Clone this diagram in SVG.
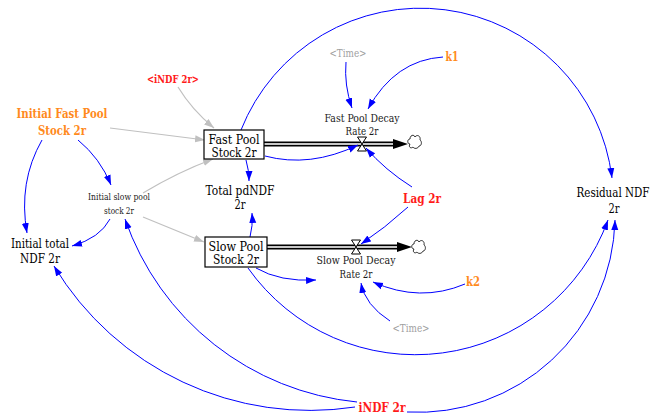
<svg xmlns="http://www.w3.org/2000/svg" width="654" height="414" viewBox="0 0 654 414">
<style>
text{font-family:'DejaVu Serif',serif;text-anchor:middle}
.n{font-size:12px;fill:#000}
.bx{font-size:12.2px;fill:#000}
.s{font-size:10.5px;fill:#1a1a1a}
.xs{font-size:8.7px;fill:#1a1a1a}
.tm{font-size:10.5px;fill:#a0a0a0}
.or{font-size:12.3px;font-weight:bold;fill:#ff8a1c}
.rd{font-size:12.3px;font-weight:bold;fill:#ff1a1a}
.b{fill:none;stroke:#0000ff;stroke-width:1;marker-end:url(#ab)}
.g{fill:none;stroke:#c0c0c0;stroke-width:1.2;marker-end:url(#ag)}
.box{fill:#fff;stroke:#000;stroke-width:1.2}
.valve{fill:#fff;stroke:#000;stroke-width:1}
.cloud{fill:#fff;stroke:#000;stroke-width:0.8}
</style>
<defs>
<marker id="ab" markerUnits="userSpaceOnUse" markerWidth="11" markerHeight="8" refX="10" refY="4" orient="auto"><path d="M0,0.5 L10,4 L0,7.5 Z" fill="#0000ff"/></marker>
<marker id="ag" markerUnits="userSpaceOnUse" markerWidth="11" markerHeight="8" refX="10" refY="4" orient="auto"><path d="M0,0.5 L10,4 L0,7.5 Z" fill="#c0c0c0"/></marker>
<path id="cl" d="M-4,3 C-7,3 -7,-2 -4,-2 C-4,-6 0,-7 1,-4 C3,-7 7,-5 6,-1 C8,0 8,5 5,5 C4,8 0,8 -1,6 C-3,8 -6,6 -4,3 Z"/>
</defs>

<g id="connectors">
<g id="flow-fast">
<line x1="264" y1="144" x2="394" y2="144" stroke="#000" stroke-width="5"/>
<line x1="264" y1="144" x2="394" y2="144" stroke="#c8c8c8" stroke-width="2"/>
<polygon points="393,139 408,144 393,149" fill="#000"/>
<path class="valve" d="M357.5,137 L366.5,137 L357.5,151 L366.5,151 Z"/>
<use href="#cl" class="cloud" transform="translate(414,141)"/>
</g>
<g id="flow-slow">
<line x1="267" y1="247" x2="398" y2="247" stroke="#000" stroke-width="5"/>
<line x1="267" y1="247" x2="398" y2="247" stroke="#c8c8c8" stroke-width="2"/>
<polygon points="397,242 412,247 397,252" fill="#000"/>
<path class="valve" d="M351.5,240 L360.5,240 L351.5,254 L360.5,254 Z"/>
<use href="#cl" class="cloud" transform="translate(418,246)"/>
</g>
<path class="g" d="M178,87 Q192,110 214,128"/>
<path class="g" d="M110,128 L205,140"/>
<path class="g" d="M143,193 Q178,172 213,159"/>
<path class="g" d="M143,217 Q170,228 204,242"/>
<path class="b" d="M42,140 Q18,182 27,233"/>
<path class="b" d="M78,140 Q100,158 111,185"/>
<path class="b" d="M110,219 Q100,238 72,246"/>
<path class="b" d="M246,160 Q249,170 249,181"/>
<path class="b" d="M250,237 Q253,226 252,213"/>
<path class="b" d="M265,156 Q310,168 358,145"/>
<path class="b" d="M412,187 Q385,170 366,148"/>
<path class="b" d="M408,207 Q385,228 361,244"/>
<path class="b" d="M256,268 Q280,282 316,280"/>
<path class="b" d="M465,284 Q420,303 373,282"/>
<path class="b" d="M390,321 Q365,305 361,283"/>
<path class="b" d="M346,62 Q344,85 352,108"/>
<path class="b" d="M443,57 Q395,60 368,109"/>
<path class="b" d="M241,130 A193,193 0 0 1 612,178"/>
<path class="b" d="M248,268 A205,205 0 0 0 608,220"/>
<path class="b" d="M355,407 A299,299 0 0 1 54,266"/>
<path class="b" d="M357,402 A274,274 0 0 1 125,219"/>
<path class="b" d="M407,412 A197,197 0 0 0 615,220"/>
</g>

<g id="fast-pool-stock"><rect class="box" x="204" y="130" width="60" height="29"/><text class="bx" x="234" y="143.5" textLength="51" lengthAdjust="spacingAndGlyphs">Fast Pool</text><text class="bx" x="234" y="157" textLength="45" lengthAdjust="spacingAndGlyphs">Stock 2r</text></g>
<g id="slow-pool-stock"><rect class="box" x="205" y="237" width="62" height="30"/><text class="bx" x="236" y="250.5" textLength="55" lengthAdjust="spacingAndGlyphs">Slow Pool</text><text class="bx" x="236" y="264" textLength="46" lengthAdjust="spacingAndGlyphs">Stock 2r</text></g>
<g id="fast-pool-decay-rate"><text class="s" x="362" y="122" textLength="75" lengthAdjust="spacingAndGlyphs">Fast Pool Decay</text><text class="s" x="362" y="135" textLength="33" lengthAdjust="spacingAndGlyphs">Rate 2r</text></g>
<g id="slow-pool-decay-rate"><text class="s" x="356" y="264" textLength="79" lengthAdjust="spacingAndGlyphs">Slow Pool Decay</text><text class="s" x="356" y="278" textLength="33" lengthAdjust="spacingAndGlyphs">Rate 2r</text></g>
<g id="time-top"><text class="tm" x="348" y="57" textLength="37" lengthAdjust="spacingAndGlyphs">&lt;Time&gt;</text></g>
<g id="time-bottom"><text class="tm" x="411" y="332" textLength="37" lengthAdjust="spacingAndGlyphs">&lt;Time&gt;</text></g>
<g id="k1"><text class="or" x="452" y="61" textLength="13" lengthAdjust="spacingAndGlyphs">k1</text></g>
<g id="k2"><text class="or" x="473" y="286" textLength="14" lengthAdjust="spacingAndGlyphs">k2</text></g>
<g id="indf-shadow"><text class="rd" x="173" y="83" style="font-size:10.2px" textLength="52" lengthAdjust="spacingAndGlyphs">&lt;iNDF 2r&gt;</text></g>
<g id="initial-fast-pool-stock"><text class="or" x="62" y="118" textLength="91" lengthAdjust="spacingAndGlyphs">Initial Fast Pool</text><text class="or" x="62" y="135" textLength="48" lengthAdjust="spacingAndGlyphs">Stock 2r</text></g>
<g id="initial-slow-pool-stock"><text class="xs" x="119" y="200" textLength="62" lengthAdjust="spacingAndGlyphs">Initial slow pool</text><text class="xs" x="119" y="214" textLength="30" lengthAdjust="spacingAndGlyphs">stock 2r</text></g>
<g id="initial-total-ndf"><text class="n" x="40" y="248" textLength="58" lengthAdjust="spacingAndGlyphs">Initial total</text><text class="n" x="40" y="263" textLength="40" lengthAdjust="spacingAndGlyphs">NDF 2r</text></g>
<g id="total-pdndf"><text class="n" x="240" y="195" textLength="69" lengthAdjust="spacingAndGlyphs">Total pdNDF</text><text class="n" x="240" y="209" textLength="11" lengthAdjust="spacingAndGlyphs">2r</text></g>
<g id="lag"><text class="rd" x="422" y="203" textLength="38" lengthAdjust="spacingAndGlyphs">Lag 2r</text></g>
<g id="residual-ndf"><text class="n" x="613" y="197" textLength="73" lengthAdjust="spacingAndGlyphs">Residual NDF</text><text class="n" x="614" y="213" textLength="11" lengthAdjust="spacingAndGlyphs">2r</text></g>
<g id="indf"><text class="rd" x="382" y="412" textLength="47" lengthAdjust="spacingAndGlyphs">iNDF 2r</text></g>
</svg>
